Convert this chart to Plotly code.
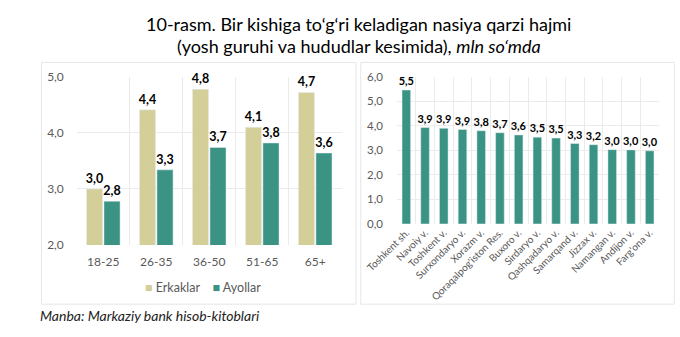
import plotly.graph_objects as go

# Left chart data
age_groups = ["18-25", "26-35", "36-50", "51-65", "65+"]
erkaklar = [3.0, 4.41, 4.78, 4.10, 4.72]
ayollar = [2.78, 3.34, 3.74, 3.82, 3.64]

# Right chart data
regions = ["Toshkent sh.", "Navoiy v.", "Toshkent v.", "Surxondaryo v.", "Xorazm v.",
           "Qoraqalpog'iston Res.", "Buxoro v.", "Sirdaryo v.", "Qashqadaryo v.",
           "Samarqand v.", "Jizzax v.", "Namangan v.", "Andijon v.", "Farg'ona v."]
region_vals = [5.46, 3.93, 3.90, 3.85, 3.80, 3.72, 3.63, 3.54, 3.50, 3.28, 3.23, 3.03, 3.02, 2.98]

KHAKI = "#D4CF98"
TEAL = "#3A9383"
GRID = "#EBEBEB"
TICK = "#595959"
FONT = "Lato"

W, H = 680, 337
def px(x): return x / W
def py(y): return 1 - y / H

fig = go.Figure()
lbl_font = dict(family=FONT, size=12.5, color="#000000")

fig.add_trace(go.Bar(x=age_groups, y=erkaklar, name="Erkaklar", marker_color=KHAKI,
                     texttemplate="<b>%{y:.1f}</b>", textposition="outside",
                     constraintext="none",
                     textfont=lbl_font, cliponaxis=False, xaxis="x", yaxis="y"))
fig.add_trace(go.Bar(x=age_groups, y=ayollar, name="Ayollar", marker_color=TEAL,
                     texttemplate="<b>%{y:.1f}</b>", textposition="outside",
                     constraintext="none",
                     textfont=lbl_font, cliponaxis=False, xaxis="x", yaxis="y"))
fig.add_trace(go.Bar(x=regions, y=region_vals, name="Hududlar", marker_color=TEAL,
                     texttemplate="<b>%{y:.1f}</b>", textposition="outside",
                     constraintext="none",
                     textfont=dict(family=FONT, size=11, color="#000000"),
                     cliponaxis=False, xaxis="x2", yaxis="y2",
                     width=0.46))

legend_text = (f"<span style='color:{KHAKI}'>■</span> Erkaklar"
               f"    <span style='color:{TEAL}'>■</span> Ayollar")

fig.update_layout(
    width=W, height=H,
    margin=dict(l=0, r=0, t=0, b=0),
    paper_bgcolor="white", plot_bgcolor="white",
    separators=", ",
    showlegend=False,
    barmode="group", bargap=0.34, bargroupgap=0.08,
    font=dict(family=FONT, color=TICK),
    xaxis=dict(domain=[px(47), px(325)], anchor="y", tickson="boundaries",
               showgrid=True, gridcolor=GRID, ticks="", showline=False,
               tickfont=dict(size=12, color=TICK), ticklabelstandoff=8),
    yaxis=dict(domain=[py(248), py(72)], anchor="x", range=[2, 5], dtick=1,
               tickformat=".1f", showgrid=True, gridcolor=GRID, zeroline=False,
               tickfont=dict(size=12, color=TICK), ticklabelstandoff=12),
    xaxis2=dict(domain=[px(383), px(658)], anchor="y2", tickson="boundaries",
                showgrid=True, gridcolor=GRID, ticks="", tickangle=-45,
                tickfont=dict(size=10, color=TICK)),
    yaxis2=dict(domain=[py(226), py(72)], anchor="x2", range=[0, 6], dtick=1,
                tickformat=".1f", showgrid=True, gridcolor=GRID, zeroline=False,
                tickfont=dict(size=11.5, color=TICK), ticklabelstandoff=13),
    shapes=[
        dict(type="rect", xref="paper", yref="paper", x0=px(10), x1=px(340),
             y0=py(310), y1=py(57), line=dict(color="#E6E6E6", width=1)),
        dict(type="rect", xref="paper", yref="paper", x0=px(345), x1=px(674),
             y0=py(310), y1=py(57), line=dict(color="#E6E6E6", width=1)),
    ],
    annotations=[
        dict(text="10-rasm. Bir kishiga to‘g‘ri keladigan nasiya qarzi hajmi",
             xref="paper", yref="paper", x=px(343), y=py(17), xanchor="center",
             yanchor="middle", showarrow=False, font=dict(size=18, color="#000000")),
        dict(text="(yosh guruhi va hududlar kesimida), <i>mln so‘mda</i>",
             xref="paper", yref="paper", x=px(343), y=py(40), xanchor="center",
             yanchor="middle", showarrow=False, font=dict(size=18, color="#000000")),
        dict(text="<i>Manba: Markaziy bank hisob-kitoblari</i>",
             xref="paper", yref="paper", x=px(6), y=py(322), xanchor="left",
             yanchor="middle", showarrow=False, font=dict(size=14, color="#222222")),
        dict(text=legend_text, xref="paper", yref="paper", x=px(179), y=py(292),
             xanchor="center", yanchor="middle", showarrow=False,
             font=dict(size=12.5, color=TICK)),
    ],
)

fig.write_html("out.html")
